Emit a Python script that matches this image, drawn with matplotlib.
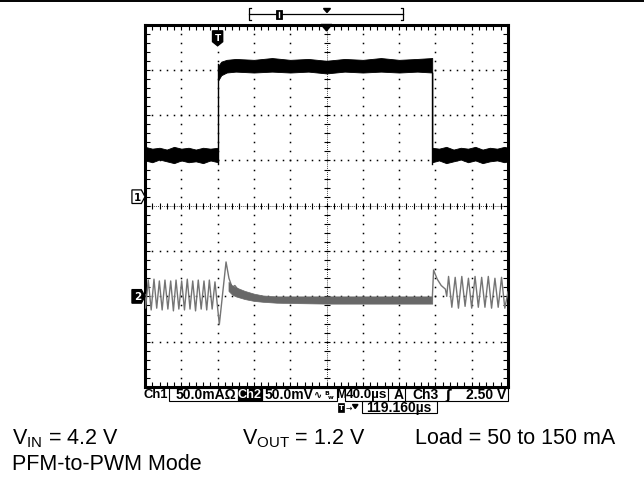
import numpy as np
import matplotlib.pyplot as plt
from matplotlib.patches import Polygon, Rectangle

W, H = 644, 485

# scope settings (time/div, volts/div, channel ground positions in divisions)
US_PER_DIV = 40.0
MA_PER_DIV = 50.0
MV_PER_DIV = 50.0
CH1_POS = 0.2
CH2_POS = -2.0
TRIG_US = 80.0

# Ch1: load current in mA, the noisy trace is kept as an upper / lower envelope
ch1_t = [0, 8, 16, 24, 32, 40, 48, 56, 64, 72, 80.5,
         80.5, 84, 90, 100, 120, 140, 160, 180, 200, 220, 240, 260, 280, 300, 316.5,
         316.5, 324, 332, 340, 348, 356, 364, 372, 380, 388, 396, 400]
ch1_hi = [55, 53, 54, 52, 55, 53, 54, 52, 54, 53, 54,
          144, 149, 151, 152, 151, 153, 151, 152, 150, 152, 151, 153, 151, 152, 153,
          54, 53, 55, 52, 54, 53, 55, 52, 54, 53, 55, 54]
ch1_lo = [40, 38, 41, 39, 37, 40, 38, 39, 37, 40, 38,
          128, 134, 137, 138, 137, 138, 137, 138, 136, 138, 137, 138, 137, 138, 137,
          38, 40, 37, 39, 41, 38, 40, 37, 39, 40, 38, 39]

# Ch2: output voltage ripple in mV (AC coupled)
ch2_t = [0, 0.6, 3.6, 6.8, 9.9, 12.9, 15.8, 18.9, 22.0, 25.2, 28.3, 31.3, 34.2,
         37.3, 40.4, 43.5, 46.6, 49.6, 52.6, 55.7, 58.7, 61.9, 65.0, 68.0, 70.9,
         74.0, 77.1, 81.9, 89.3, 92.5, 96, 99, 103]
ch2_mv = [2, -13, 18, -15, 19, -13, 17, -15, 18, -14, 17, -16, 18,
          -14, 17, -15, 19, -14, 17, -16, 18, -14, 17, -15, 18,
          -14, 16, -31, 38, 20, 10, 12, 7]

# PWM part, thick noisy band
band_t = [92, 96, 100, 110, 120, 130, 145, 170, 200, 240, 280, 316.5]
band_hi = [16, 12, 10, 6, 3, 1, 0, 0, 0, 0, 0, 0]
band_lo = [6, 2, 0, -3, -5, -6, -7, -7.5, -8, -8, -8, -8]

# back to PFM after the load step down
ch2r_t = [316.5, 318, 322, 326.4, 331, 332.5, 334.5, 338.1, 341.8, 345.4, 349.1,
          352.7, 356.4, 360, 363.7, 367.3, 371, 374.6, 378.3, 381.9, 385.6,
          389.2, 392.9, 396.5, 400]
ch2r_mv = [-4, 29, 19, 12, 8, 0, 22, -12, 21, -13, 22,
           -11, 20, -13, 22, -12, 21, -12, 22, -13, 20,
           -12, 21, -13, 5]


def tx(t):
    return np.asarray(t) / US_PER_DIV


def y1(v):
    return CH1_POS + np.asarray(v) / MA_PER_DIV


def y2(v):
    return CH2_POS + np.asarray(v) / MV_PER_DIV


fig = plt.figure(figsize=(W / 100, H / 100), dpi=100)
fig.patch.set_facecolor("white")

# overlay in pixel coordinates for everything outside the screen
ov = fig.add_axes([0, 0, 1, 1])
ov.set_xlim(0, W)
ov.set_ylim(H, 0)
ov.axis("off")

# screen
L, R, T, B = 145, 508, 25.5, 388
ax = fig.add_axes([L / W, 1 - B / H, (R - L) / W, (B - T) / H])
ax.set_xlim(0, 10)
ax.set_ylim(-4, 4)
ax.set_xticks([])
ax.set_yticks([])
for s in ax.spines.values():
    s.set_linewidth(2.2)
    s.set_color("black")

# graticule
fine = np.round(np.arange(0, 10.001, 0.2), 2)
fine_y = np.round(np.arange(-4, 4.001, 0.2), 2)
for xv in range(1, 10):
    if xv == 5:
        continue
    ax.plot([xv] * len(fine_y), fine_y, ls="none", marker="s", ms=1.1, color="k", mew=0)
for yv in range(-3, 4):
    if yv == 0:
        continue
    ax.plot(fine, [yv] * len(fine), ls="none", marker="s", ms=1.1, color="k", mew=0)
ax.plot([0, 10], [0, 0], color="k", lw=0.6, ls=(0, (1, 1.5)))
ax.plot([5, 5], [-4, 4], color="k", lw=0.6, ls=(0, (1, 1.5)))
ax.plot(fine, [0] * len(fine), ls="none", marker="|", ms=4.5, mew=0.8, color="k")
ax.plot([5] * len(fine_y), fine_y, ls="none", marker="_", ms=4.5, mew=0.8, color="k")
# edge ticks
ax.plot(fine, [4] * len(fine), ls="none", marker="|", ms=7, mew=0.8, color="k")
ax.plot(fine, [-4] * len(fine), ls="none", marker="|", ms=7, mew=0.8, color="k")
ax.plot([0] * len(fine_y), fine_y, ls="none", marker="_", ms=7, mew=0.8, color="k")
ax.plot([10] * len(fine_y), fine_y, ls="none", marker="_", ms=7, mew=0.8, color="k")

# ch1 trace
ax.fill_between(tx(ch1_t), y1(ch1_lo), y1(ch1_hi), color="black", lw=0.6, zorder=5)
ax.plot(tx([80.5, 80.5]), y1([36, 146]), color="black", lw=1.0, zorder=5)
ax.plot(tx([316.5, 316.5]), y1([136, 36]), color="black", lw=1.0, zorder=5)

# ch2 trace
c2 = "#747474"
ax.plot(tx(ch2_t), y2(ch2_mv), color=c2, lw=1.0, zorder=4)
ax.fill_between(tx(band_t), y2(band_lo), y2(band_hi), color="#686868", lw=0.5, zorder=4)
ax.plot(tx(ch2r_t), y2(ch2r_mv), color=c2, lw=1.0, zorder=4)

# channel ground markers
for pos, lab, fc, tc in [(CH1_POS, "1", "white", "black"), (CH2_POS, "2", "black", "white")]:
    pts = [(-0.36, pos + 0.15), (-0.1, pos + 0.15), (0, pos), (-0.1, pos - 0.15), (-0.36, pos - 0.15)]
    ax.add_patch(Polygon(pts, closed=True, fc=fc, ec="black", lw=0.9, clip_on=False, zorder=6))
    ax.text(-0.21, pos, lab, ha="center", va="center", fontsize=7.5, fontweight="bold",
            color=tc, clip_on=False, zorder=7)

# trigger marker and center arrow
tr = TRIG_US / US_PER_DIV
ax.add_patch(Polygon([(tr - 0.14, 3.86), (tr + 0.14, 3.86), (tr + 0.14, 3.62), (tr, 3.53),
                      (tr - 0.14, 3.62)], closed=True, fc="black", ec="black", zorder=6))
ax.text(tr, 3.72, "T", ha="center", va="center", fontsize=6.5, fontweight="bold", color="white", zorder=7)
ax.add_patch(Polygon([(4.85, 4), (5.15, 4), (5, 3.86)], closed=True, fc="black", ec="black",
                     clip_on=False, zorder=6))

# record bar above the screen
ov.plot([0, W], [2, 2], color="black", lw=1.4)
ov.plot([249, 403], [15, 15], color="black", lw=0.9)
ov.plot([251, 249, 249, 251], [9, 9, 21, 21], color="black", lw=0.9)
ov.plot([401, 403, 403, 401], [9, 9, 21, 21], color="black", lw=0.9)
ov.add_patch(Rectangle((276.5, 10.5), 6, 9.5, fc="black", ec="black", lw=0.6))
ov.plot([279.5, 279.5], [12.5, 18], color="white", lw=1.0)
ov.add_patch(Polygon([(323.5, 9.5), (330.5, 9.5), (327, 13.5)], closed=True, fc="black", ec="black"))

# status line
sf = dict(fontsize=10, fontweight="bold", family="Liberation Sans", va="center")
ry1, ry2 = 395.5, 408
ov.text(144, ry1, "Ch1", ha="left", **dict(sf, fontsize=9.4))
ov.add_patch(Rectangle((169, 389), 69, 13, fc="none", ec="black", lw=0.8))
ov.text(236, ry1, "50.0mA\u03a9", ha="right", **sf)
ov.add_patch(Rectangle((238, 389), 24, 13, fc="black", ec="black", lw=0.8))
ov.text(250, ry1, "Ch2", ha="center", color="white", **dict(sf, fontsize=9.2))
ov.add_patch(Rectangle((262, 389), 75, 13, fc="none", ec="black", lw=0.8))
ov.text(265, ry1, "50.0mV", ha="left", **sf)
ov.text(314, ry1, "\u223f", ha="left", fontsize=7, fontweight="bold", va="center")
ov.text(324, ry1 - 2, "B", ha="left", fontsize=4.5, fontweight="bold", va="center")
ov.text(328, ry1 + 2, "w", ha="left", fontsize=4.5, fontweight="bold", va="center")
ov.text(341, ry1, "M", ha="center", **dict(sf, fontsize=8.6))
ov.add_patch(Rectangle((345, 389), 43, 13, fc="none", ec="black", lw=0.8))
ov.text(366.5, ry1, "40.0\u00b5s", ha="center", **dict(sf, fontsize=9.7))
ov.text(399, ry1, "A", ha="center", **sf)
ov.add_patch(Rectangle((405, 389), 103, 13, fc="none", ec="black", lw=0.8))
ov.text(412, ry1, "Ch3", ha="left", **sf)
ov.text(448, ry1, "\u0283", ha="center", fontsize=9.5, fontweight="bold", va="center")
ov.text(506, ry1, "2.50 V", ha="right", **sf)
# trigger position readout
ov.add_patch(Rectangle((338, 403.5), 6.5, 9, fc="black", ec="black", lw=0.5))
ov.text(341.3, ry2, "T", ha="center", va="center", fontsize=5, fontweight="bold", color="white")
ov.text(345.5, ry2, "\u2192", ha="left", va="center", fontsize=5.5)
ov.add_patch(Polygon([(352.5, 405.5), (358, 405.5), (355.2, 409.5)], closed=True, fc="black", ec="black"))
ov.add_patch(Rectangle((362, 402), 75, 12, fc="none", ec="black", lw=0.8))
ov.text(366, ry2, "119.160\u00b5s", ha="left", **sf)

# test conditions
tf = dict(fontsize=15.5, family="Liberation Sans", va="baseline", ha="left")
ov.text(12, 444, r"V$_{\mathregular{IN}}$ = 4.2 V", **tf)
ov.text(242, 444, r"V$_{\mathregular{OUT}}$ = 1.2 V", **tf)
ov.text(415, 444, "Load = 50 to 150 mA", **tf)
ov.text(12, 470, "PFM-to-PWM Mode", **tf)

fig.savefig("out.png", dpi=100)
